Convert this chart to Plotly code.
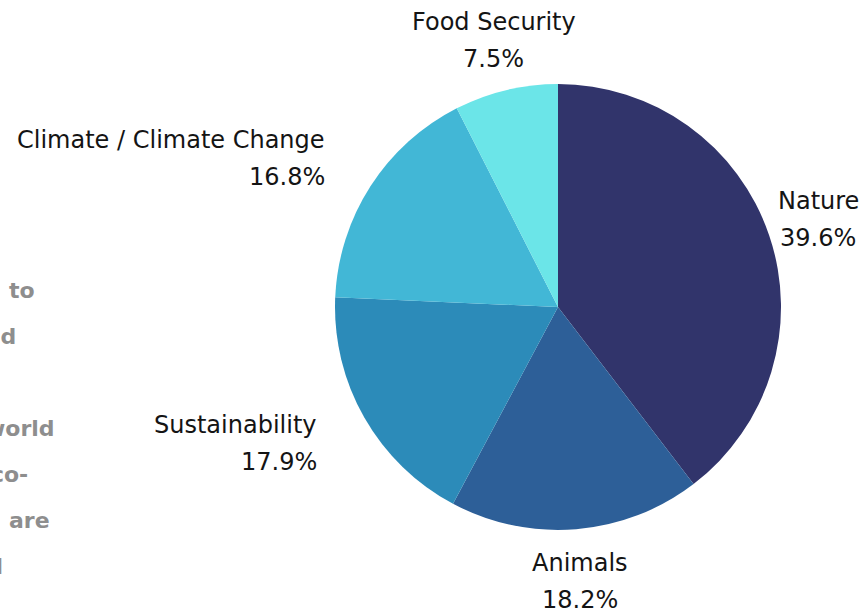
import math
import plotly.graph_objects as go

labels = ["Nature", "Animals", "Sustainability", "Climate / Climate Change", "Food Security"]
values = [39.6, 18.2, 17.9, 16.8, 7.5]
colors = ["#31346B", "#2D5F98", "#2C8BB9", "#42B7D6", "#6BE5E8"]

# background paragraph fragments visible at the left edge (clipped)
bg_words = ["to", "and", "", "world", "eco-", "are", "all"]
bg_right_px = [37, 18, 0, 57, 30, 52, 5]

W, H = 864, 608
cx, cy, r = 558, 307, 223

fig = go.Figure(go.Pie(
    labels=labels, values=values, sort=False, direction="clockwise", rotation=0,
    marker=dict(colors=colors, line=dict(width=0)),
    textinfo="none", hoverinfo="label+percent", showlegend=False,
    domain=dict(x=[(cx - r) / W, (cx + r) / W], y=[(H - cy - r) / H, (H - cy + r) / H]),
))

ann = []
total = sum(values)
cum = 0
label_r = 275
for lab, v in zip(labels, values):
    mid = (cum + v / 2) / total * 2 * math.pi
    cum += v
    s, c = math.sin(mid), math.cos(mid)
    px = cx + label_r * s
    py = cy - label_r * c
    anchor = "right" if s < -0.5 else "center"
    pct = f"{v / total * 100:.1f}%"
    for txt, off in ((lab, -18), (pct, 19)):
        ann.append(dict(x=px / W, y=1 - (py + off) / H, xref="paper", yref="paper",
                        text=txt, showarrow=False, xanchor=anchor, yanchor="middle",
                        font=dict(family="DejaVu Sans", size=24, color="#141414")))

for i, (w, rx) in enumerate(zip(bg_words, bg_right_px)):
    if not w:
        continue
    py = 290 + 46 * i
    ann.append(dict(x=rx / W, y=1 - py / H, xref="paper", yref="paper", text=w,
                    showarrow=False, xanchor="right", yanchor="middle",
                    font=dict(family="DejaVu Sans", size=22, color="#8e8e8e", weight=600)))

fig.update_layout(width=W, height=H, margin=dict(l=0, r=0, t=0, b=0),
                  paper_bgcolor="white", plot_bgcolor="white", annotations=ann)
fig.write_html("out.html")
